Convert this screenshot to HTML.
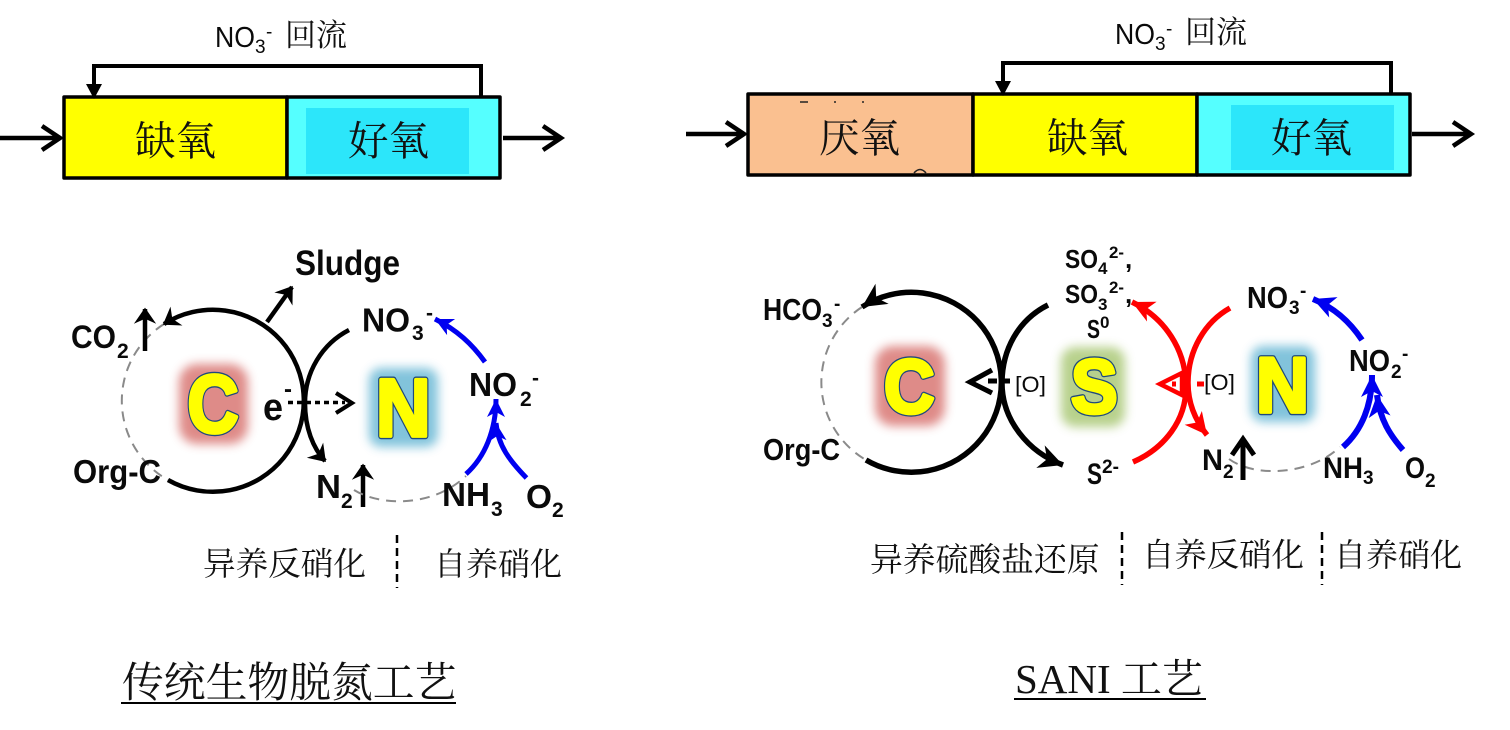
<!DOCTYPE html>
<html><head><meta charset="utf-8">
<style>
html,body{margin:0;padding:0;background:#fff;width:1510px;height:730px;overflow:hidden}
svg{display:block}
.c{font-family:"Liberation Serif","Noto Serif CJK SC",serif;fill:#111}
.k{font-family:"Liberation Sans","Noto Sans CJK SC",sans-serif;font-weight:bold;fill:#0a0a0a}
.b1,.b2{font-family:"Liberation Sans",sans-serif;font-weight:bold;stroke-linejoin:round}
.b1{fill:#1f497d;stroke:#1f497d;stroke-width:6.4}
.b2{fill:#ffff00;stroke:#ffff00;stroke-width:3.8}
.n{fill:none;stroke:#000;stroke-width:4.5;stroke-linecap:butt}
.d{fill:none;stroke:#8a8a8a;stroke-width:2;stroke-dasharray:10 7}
.box{stroke:#000;stroke-width:3.5;stroke-linejoin:round}
</style></head><body>
<svg width="1510" height="730" viewBox="0 0 1510 730" xmlns="http://www.w3.org/2000/svg">
<defs>
<filter id="gl" x="-40%" y="-40%" width="180%" height="180%"><feGaussianBlur stdDeviation="5"/></filter>
<marker id="o" markerUnits="userSpaceOnUse" markerWidth="30" markerHeight="30" refX="22" refY="15" orient="auto"><path d="M9 6 L22 15 L9 24 L13 15Z" fill="#000" stroke="#000" stroke-width="1.5"/></marker>
<marker id="s" markerUnits="userSpaceOnUse" markerWidth="36" markerHeight="36" refX="30" refY="18" orient="auto"><path d="M30 18 L6 6 L13 18 L6 30 Z" fill="#000"/></marker>
<marker id="sb" markerUnits="userSpaceOnUse" markerWidth="30" markerHeight="30" refX="24" refY="15" orient="auto"><path d="M24 15 L6 6 L11 15 L6 24 Z" fill="#0000f0"/></marker>
<marker id="sb2" markerUnits="userSpaceOnUse" markerWidth="36" markerHeight="36" refX="30" refY="18" orient="auto"><path d="M30 18 L8 7 L14 18 L8 29 Z" fill="#0000f0"/></marker>
<marker id="sr" markerUnits="userSpaceOnUse" markerWidth="36" markerHeight="36" refX="30" refY="18" orient="auto"><path d="M30 18 L8 7 L14 18 L8 29 Z" fill="#f00"/></marker>
</defs>

<!-- left process -->
<rect class="box" x="64" y="97" width="223" height="81" fill="#ffff00"/>
<rect class="box" x="287" y="97" width="213" height="81" fill="#55ffff"/>
<rect x="306" y="108" width="163" height="66" fill="#2ce6fa"/>
<path d="M481 97V66H94V97" fill="none" stroke="#000" stroke-width="4"/>
<path d="M86 84L94 99L102 84Z" fill="#000"/>
<text x="135" y="155" class="c" font-size="40.5">缺氧</text>
<text x="348" y="155" class="c" font-size="40.5">好氧</text>
<path d="M0 138H60M42 126L60 138L42 150" fill="none" stroke="#000" stroke-width="4.5"/>
<path d="M503 138H561M543 126L561 138L543 150" fill="none" stroke="#000" stroke-width="4.5"/>
<text x="215" y="47" class="k" style="font-weight:normal" font-size="29" textLength="40" lengthAdjust="spacingAndGlyphs">NO</text>
<text x="255" y="53" class="k" style="font-weight:normal" font-size="19">3</text>
<text x="266" y="38" class="k" style="font-weight:normal" font-size="19">-</text>
<text x="285" y="46" class="c" font-size="31">回流</text>

<!-- right process -->
<rect class="box" x="748" y="94" width="225" height="81" fill="#fac090"/>
<rect class="box" x="973" y="94" width="224" height="81" fill="#ffff00"/>
<rect class="box" x="1197" y="94" width="213" height="81" fill="#55ffff"/>
<rect x="1231" y="105" width="163" height="65" fill="#2ce6fa"/>
<path d="M1391 94V63H1003V94" fill="none" stroke="#000" stroke-width="4"/>
<path d="M995 81L1003 96L1011 81Z" fill="#000"/>
<text x="819" y="152" class="c" font-size="40.5">厌氧</text>
<text x="1047" y="152" class="c" font-size="40.5">缺氧</text>
<text x="1271" y="152" class="c" font-size="40.5">好氧</text>
<path d="M800 102H808M835 101V103M863 101V103M914 173Q920 166 926 173" fill="none" stroke="#222" stroke-width="1.5"/>
<path d="M686 134H744M726 122L744 134L726 146" fill="none" stroke="#000" stroke-width="4.5"/>
<path d="M1412 134H1471M1453 122L1471 134L1453 146" fill="none" stroke="#000" stroke-width="4.5"/>
<text x="1115" y="44" class="k" style="font-weight:normal" font-size="29" textLength="40" lengthAdjust="spacingAndGlyphs">NO</text>
<text x="1155" y="50" class="k" style="font-weight:normal" font-size="19">3</text>
<text x="1166" y="35" class="k" style="font-weight:normal" font-size="19">-</text>
<text x="1185" y="43" class="c" font-size="31">回流</text>

<!-- glows -->
<rect x="179" y="364" width="69" height="80" rx="18" fill="#db7f7c" opacity=".9" filter="url(#gl)"/>
<rect x="369" y="368" width="69" height="79" rx="12" fill="#74bdd8" opacity=".9" filter="url(#gl)"/>
<rect x="875" y="346" width="70" height="80" rx="18" fill="#db7f7c" opacity=".9" filter="url(#gl)"/>
<rect x="1061" y="347" width="64" height="80" rx="14" fill="#b0cc80" opacity=".9" filter="url(#gl)"/>
<rect x="1251" y="346" width="64" height="76" rx="12" fill="#74bdd8" opacity=".9" filter="url(#gl)"/>

<!-- big letters -->
<text x="187.5" y="432" class="b1" font-size="82" textLength="51" lengthAdjust="spacingAndGlyphs">C</text>
<text x="187.5" y="432" class="b2" font-size="82" textLength="51" lengthAdjust="spacingAndGlyphs">C</text>
<text x="376" y="436" class="b1" font-size="82" textLength="54.6" lengthAdjust="spacingAndGlyphs">N</text>
<text x="376" y="436" class="b2" font-size="82" textLength="54.6" lengthAdjust="spacingAndGlyphs">N</text>
<text x="884" y="413" class="b1" font-size="76" textLength="50.5" lengthAdjust="spacingAndGlyphs">C</text>
<text x="884" y="413" class="b2" font-size="76" textLength="50.5" lengthAdjust="spacingAndGlyphs">C</text>
<text x="1071" y="413" class="b1" font-size="76" textLength="46.6" lengthAdjust="spacingAndGlyphs">S</text>
<text x="1071" y="413" class="b2" font-size="76" textLength="46.6" lengthAdjust="spacingAndGlyphs">S</text>
<text x="1256" y="412" class="b1" font-size="78" textLength="53" lengthAdjust="spacingAndGlyphs">N</text>
<text x="1256" y="412" class="b2" font-size="78" textLength="53" lengthAdjust="spacingAndGlyphs">N</text>

<!-- left cycle -->
<path class="d" d="M164 324A91 91 0 0 0 168 480"/>
<path class="n" d="M168 480A91 91 0 1 0 164 324" marker-end="url(#o)"/>
<path class="n" d="M267 322L292 287" marker-end="url(#o)"/>
<path class="n" d="M349 330C322 344 305 372 305 403C305 428 313 448 325 461" marker-end="url(#o)"/>
<path class="n" d="M145 351V309" marker-end="url(#o)"/>
<path class="n" d="M363 507V465" marker-end="url(#o)"/>
<path d="M288 402.5H345" stroke="#000" stroke-width="3.5" stroke-dasharray="5 4" fill="none"/>
<path d="M336 393L352 403L336 413" fill="none" stroke="#000" stroke-width="4"/>
<path class="d" d="M354 490C380 506 432 508 466 476"/>
<g fill="none" stroke="#0000f0" stroke-width="5">
<path d="M485 362C472 344 457 330 435 319" marker-end="url(#sb)"/>
<path d="M466 474C485 457 496 430 496 399" marker-end="url(#sb)"/>
<path d="M526.5 478C510 461 498 446 496 423" marker-end="url(#sb)"/>
</g>

<!-- right cycle -->
<path class="d" d="M862 307A90 90 0 0 0 866 460"/>
<path class="n" style="stroke-width:5.5" d="M866 460A90 90 0 1 0 862 307" marker-end="url(#s)"/>
<path class="n" style="stroke-width:5.5" d="M1048 305C1018 320 1002 350 1002 383C1002 420 1028 452 1063 465" marker-end="url(#s)"/>
<path d="M1010 381H985" stroke="#000" stroke-width="5" stroke-dasharray="9 4" fill="none"/>
<path d="M992 370L970 382L992 393" fill="none" stroke="#000" stroke-width="5"/>
<g fill="none" stroke="#f00" stroke-width="5.5">
<path d="M1133 462C1165 448 1186 420 1186 387C1186 350 1165 318 1132 302" marker-end="url(#sr)"/>
<path d="M1230 308C1205 322 1188 350 1188 383C1188 402 1195 420 1207 435" marker-end="url(#sr)"/>
<path d="M1182 373L1160 384L1182 395Z" stroke-width="4.5"/>
<path d="M1197 384H1204M1172 384H1176" stroke-width="5"/>
</g>
<path class="d" d="M1229 459C1255 478 1310 475 1340 447"/>
<path d="M1243 480V442" stroke="#000" stroke-width="5" fill="none"/>
<path d="M1232 455L1243 439L1254 455" fill="none" stroke="#000" stroke-width="5"/>
<g fill="none" stroke="#0000f0" stroke-width="6">
<path d="M1362 340C1350 322 1335 308 1313 299" marker-end="url(#sb2)"/>
<path d="M1343 447C1362 430 1372 405 1372 375" marker-end="url(#sb2)"/>
<path d="M1403 450C1390 435 1380 420 1377 395" marker-end="url(#sb2)"/>
</g>

<!-- chem labels left -->
<text x="295" y="275" class="k" font-size="35" textLength="105" lengthAdjust="spacingAndGlyphs">Sludge</text>
<text x="71" y="348" class="k" font-size="32" textLength="45" lengthAdjust="spacingAndGlyphs">CO</text>
<text x="117" y="358" class="k" font-size="21">2</text>
<text x="73" y="483" class="k" font-size="33" textLength="88" lengthAdjust="spacingAndGlyphs">Org-C</text>
<text x="362" y="331.5" class="k" font-size="33" textLength="48" lengthAdjust="spacingAndGlyphs">NO</text>
<text x="412" y="340" class="k" font-size="21">3</text>
<text x="426" y="320" class="k" font-size="21">-</text>
<text x="469" y="396" class="k" font-size="33" textLength="48" lengthAdjust="spacingAndGlyphs">NO</text>
<text x="520" y="406" class="k" font-size="21">2</text>
<text x="532" y="385" class="k" font-size="21">-</text>
<text x="263" y="420" class="k" font-size="38" textLength="20" lengthAdjust="spacingAndGlyphs">e</text>
<text x="284" y="397" class="k" font-size="24">-</text>
<text x="316" y="498" class="k" font-size="33" textLength="25" lengthAdjust="spacingAndGlyphs">N</text>
<text x="341" y="508" class="k" font-size="21">2</text>
<text x="442" y="506" class="k" font-size="33" textLength="48" lengthAdjust="spacingAndGlyphs">NH</text>
<text x="491" y="516" class="k" font-size="21">3</text>
<text x="526" y="508" class="k" font-size="33" textLength="26" lengthAdjust="spacingAndGlyphs">O</text>
<text x="552" y="517" class="k" font-size="21">2</text>

<!-- chem labels right -->
<text x="763" y="320" class="k" font-size="31" textLength="59" lengthAdjust="spacingAndGlyphs">HCO</text>
<text x="822" y="327" class="k" font-size="19">3</text>
<text x="834" y="310" class="k" font-size="19">-</text>
<text x="763" y="460" class="k" font-size="31" textLength="77" lengthAdjust="spacingAndGlyphs">Org-C</text>
<text x="1065" y="268" class="k" font-size="26" textLength="33" lengthAdjust="spacingAndGlyphs">SO</text>
<text x="1098" y="274" class="k" font-size="17">4</text>
<text x="1109" y="258" class="k" font-size="17" textLength="15" lengthAdjust="spacingAndGlyphs">2-</text>
<text x="1125" y="268" class="k" font-size="26">,</text>
<text x="1065" y="303" class="k" font-size="26" textLength="33" lengthAdjust="spacingAndGlyphs">SO</text>
<text x="1098" y="310" class="k" font-size="17">3</text>
<text x="1109" y="293" class="k" font-size="17" textLength="15" lengthAdjust="spacingAndGlyphs">2-</text>
<text x="1125" y="303" class="k" font-size="26">,</text>
<text x="1087" y="338" class="k" font-size="26" textLength="13" lengthAdjust="spacingAndGlyphs">S</text>
<text x="1100" y="328" class="k" font-size="17">0</text>
<text x="1087" y="484" class="k" font-size="30" textLength="15" lengthAdjust="spacingAndGlyphs">S</text>
<text x="1102" y="473" class="k" font-size="19" textLength="17" lengthAdjust="spacingAndGlyphs">2-</text>
<text x="1015" y="392" class="k" style="font-weight:normal" font-size="22" textLength="31" lengthAdjust="spacingAndGlyphs">[O]</text>
<text x="1204" y="390" class="k" style="font-weight:normal" font-size="22" textLength="31" lengthAdjust="spacingAndGlyphs">[O]</text>
<text x="1202" y="470" class="k" font-size="30" textLength="21" lengthAdjust="spacingAndGlyphs">N</text>
<text x="1223" y="478" class="k" font-size="19">2</text>
<text x="1247" y="308" class="k" font-size="31" textLength="41" lengthAdjust="spacingAndGlyphs">NO</text>
<text x="1289" y="314" class="k" font-size="19">3</text>
<text x="1300" y="297" class="k" font-size="19">-</text>
<text x="1349" y="371" class="k" font-size="31" textLength="41" lengthAdjust="spacingAndGlyphs">NO</text>
<text x="1391" y="378" class="k" font-size="19">2</text>
<text x="1402" y="360" class="k" font-size="19">-</text>
<text x="1323" y="478" class="k" font-size="30" textLength="40" lengthAdjust="spacingAndGlyphs">NH</text>
<text x="1363" y="484" class="k" font-size="19">3</text>
<text x="1405" y="478" class="k" font-size="30" textLength="20" lengthAdjust="spacingAndGlyphs">O</text>
<text x="1425" y="487" class="k" font-size="19">2</text>

<!-- CJK labels -->
<text x="203" y="575" class="c" font-size="32.6">异养反硝化</text>
<text x="434" y="575" class="c" font-size="32">自养硝化</text>
<text x="870" y="571" class="c" font-size="32.8">异养硫酸盐还原</text>
<text x="1142" y="566" class="c" font-size="32.4">自养反硝化</text>
<text x="1334" y="566" class="c" font-size="32">自养硝化</text>
<path d="M397 535V588M1122 532V585M1322 532V585" stroke="#000" stroke-width="2.5" stroke-dasharray="8 5" fill="none"/>

<text x="122" y="697" class="c" font-size="41.8">传统生物脱氮工艺</text>
<path d="M121 703H456" stroke="#000" stroke-width="2"/>
<text x="1015" y="693" class="c" font-size="41">SANI 工艺</text>
<path d="M1014 699H1206" stroke="#000" stroke-width="2"/>
</svg>
</body></html>
